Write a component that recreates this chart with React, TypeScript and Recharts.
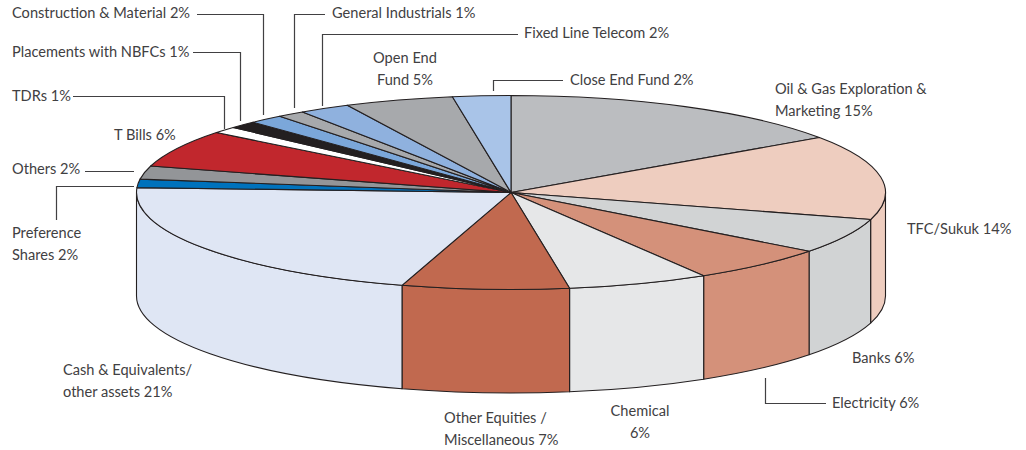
import { Pie, PieChart } from 'recharts';

const sliceNames = [
  'Oil & Gas Exploration & Marketing',
  'TFC/Sukuk',
  'Banks',
  'Electricity',
  'Chemical',
  'Other Equities / Miscellaneous',
  'Cash & Equivalents/ other assets',
  'Preference Shares',
  'Others',
  'T Bills',
  'TDRs',
  'Placements with NBFCs',
  'Construction & Material',
  'General Industrials',
  'Fixed Line Telecom',
  'Open End Fund',
  'Close End Fund',
];
const sliceValues = [15.4, 14.1, 5.85, 6.05, 6.1, 7.2, 21.1, 1.4, 2.2, 6.2, 1.1, 1.2, 1.5, 1.2, 2.2, 4.7, 2.5];
const sliceColors = [
  '#bbbdc0', '#eecdbf', '#d1d3d4', '#d4917a', '#e6e7e8', '#c1694f', '#dfe6f4', '#0072bc', '#939598',
  '#c1272d', '#ffffff', '#231f20', '#7ba7da', '#a7a9ac', '#8fb1de', '#a7a9ac', '#a9c4e8',
];

const tableData = sliceNames.map((name, i) => ({ name, value: sliceValues[i], fill: sliceColors[i] }));

// label text, placement and leader line for each slice, same order as above
type SliceLabel = { lines: string[]; x: number; y: number; anchor?: 'start' | 'middle'; leader?: string };
const sliceLabels: SliceLabel[] = [
  { lines: ['Oil & Gas Exploration &', 'Marketing 15%'], x: 775, y: 94 },
  { lines: ['TFC/Sukuk 14%'], x: 907, y: 234 },
  { lines: ['Banks 6%'], x: 852, y: 363 },
  { lines: ['Electricity 6%'], x: 832, y: 408, leader: '826,403.5 765.5,403.5 765.5,378' },
  { lines: ['Chemical', '6%'], x: 640, y: 416, anchor: 'middle' },
  { lines: ['Other Equities /', 'Miscellaneous 7%'], x: 444, y: 423 },
  { lines: ['Cash & Equivalents/', 'other assets 21%'], x: 63, y: 375 },
  { lines: ['Preference', 'Shares 2%'], x: 12, y: 238, leader: '134,186.5 56.5,186.5 56.5,220' },
  { lines: ['Others 2%'], x: 12, y: 174, leader: '85,171.5 134,171.5' },
  { lines: ['T Bills 6%'], x: 114, y: 140 },
  { lines: ['TDRs 1%'], x: 12, y: 101, leader: '73,96.5 224.5,96.5 224.5,129' },
  { lines: ['Placements with NBFCs 1%'], x: 12, y: 57, leader: '193,52.5 240.5,52.5 240.5,121' },
  { lines: ['Construction & Material 2%'], x: 12, y: 18, leader: '197,14.5 263.5,14.5 263.5,115' },
  { lines: ['General Industrials 1%'], x: 332, y: 18, leader: '325,14.5 294.5,14.5 294.5,108' },
  { lines: ['Fixed Line Telecom 2%'], x: 524, y: 38, leader: '518,34.5 322.5,34.5 322.5,106' },
  { lines: ['Open End', 'Fund 5%'], x: 405, y: 63, anchor: 'middle' },
  { lines: ['Close End Fund 2%'], x: 570, y: 85, leader: '563,80.5 493.5,80.5 493.5,91' },
];

const CX = 511;
const CY = 192.5;
const RX = 374.5;
const RY = 97;
const DEPTH = 103.5;
const EDGE = '#231f20';
const TEXT = '#414042';

// recharts angle to a point on the squashed rim
function rimPoint(angle: number, dy = 0) {
  const rad = (angle * Math.PI) / 180;
  return `${CX + RX * Math.cos(rad)} ${CY + dy - RY * Math.sin(rad)}`;
}

function TopFace({ startAngle, endAngle, fill }: any) {
  const large = startAngle - endAngle > 180 ? 1 : 0;
  const d = `M ${CX} ${CY} L ${rimPoint(startAngle)} A ${RX} ${RY} 0 ${large} 1 ${rimPoint(endAngle)} Z`;
  return <path d={d} fill={fill} stroke={EDGE} strokeWidth={1.1} strokeLinejoin="round" />;
}

// only the part of the rim between -180 and 0 degrees faces the viewer
function SideWall({ startAngle, endAngle, fill }: any) {
  const from = Math.min(startAngle, 0);
  const to = Math.max(endAngle, -180);
  if (from <= to) {
    return null;
  }
  const d =
    `M ${rimPoint(from)} A ${RX} ${RY} 0 0 1 ${rimPoint(to)} ` +
    `L ${rimPoint(to, DEPTH)} A ${RX} ${RY} 0 0 0 ${rimPoint(from, DEPTH)} Z`;
  return <path d={d} fill={fill} stroke={EDGE} strokeWidth={1.1} strokeLinejoin="round" />;
}

function SliceLabelText({ index }: any) {
  const label = sliceLabels[index];
  return (
    <g>
      {label.leader && <polyline points={label.leader} fill="none" stroke={TEXT} strokeWidth={1.2} />}
      <text
        x={label.x}
        y={label.y}
        textAnchor={label.anchor ?? 'start'}
        fill={TEXT}
        fontFamily="Lato, sans-serif"
        fontSize={14.6}
      >
        {label.lines.map((line, i) => (
          <tspan key={line} x={label.x} dy={i === 0 ? 0 : 21.5}>
            {line}
          </tspan>
        ))}
      </text>
    </g>
  );
}

export default function App() {
  return (
    <div style={{ position: 'absolute', left: 0, top: 0, width: 1026, height: 450, background: '#ffffff' }}>
      <PieChart width={1026} height={450} margin={{ top: 0, right: 0, bottom: 0, left: 0 }}>
        <Pie
          data={tableData}
          dataKey="value"
          nameKey="name"
          cx={CX}
          cy={CY}
          innerRadius={0}
          outerRadius={RX}
          startAngle={90}
          endAngle={-270}
          paddingAngle={0}
          shape={SideWall}
          isAnimationActive={false}
        />
        <Pie
          data={tableData}
          dataKey="value"
          nameKey="name"
          cx={CX}
          cy={CY}
          innerRadius={0}
          outerRadius={RX}
          startAngle={90}
          endAngle={-270}
          paddingAngle={0}
          shape={TopFace}
          label={SliceLabelText}
          labelLine={false}
          isAnimationActive={false}
        />
      </PieChart>
    </div>
  );
}
